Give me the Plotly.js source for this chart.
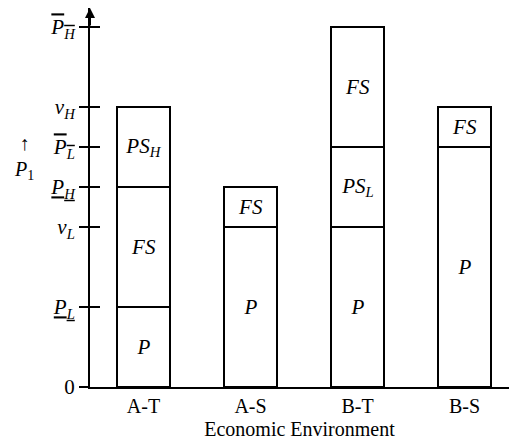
<!DOCTYPE html>
<html>
<head>
<meta charset="utf-8">
<script src="https://cdn.plot.ly/plotly-3.0.1.min.js"></script>
<style>
  html, body { margin: 0; padding: 0; background: #fff; }
  #chart { width: 509px; height: 444px; }
  #chart text, #chart tspan { font-family: 'Liberation Serif', serif !important; }
</style>
</head>
<body>
<div id="chart"></div>
<script>
// environments along the x axis
const environments = ['A-T', 'A-S', 'B-T', 'B-S'];

// stacked segment heights (bottom, middle, top)
const bottomSeg = [2, 4, 4, 6];
const middleSeg = [3, 1, 2, 1];
const topSeg = [2, 0, 3, 0];

// segment labels
const bottomText = ['P', 'P', 'P', 'P'];
const middleText = ['FS', 'FS', 'PS<sub>L</sub>', 'FS'];
const topText = ['PS<sub>H</sub>', '', 'FS', ''];

// y axis ticks
const yTickVals = [0, 2, 4, 5, 6, 7, 9];
const yTickText = ['0',
  '<span style="text-decoration:underline"><i>P<sub>L</sub></i></span>',
  '<i>v<sub>L</sub></i>',
  '<span style="text-decoration:underline"><i>P<sub>H</sub></i></span>',
  '<span style="text-decoration:overline"><i>P<sub>L</sub></i></span>',
  '<i>v<sub>H</sub></i>',
  '<span style="text-decoration:overline"><i>P<sub>H</sub></i></span>'];

const serif = 'Liberation Serif';

function segment(values, labels) {
  return {type: 'bar', x: environments, y: values, width: 0.5, text: labels, texttemplate: '%{text}',
    textposition: 'inside', insidetextanchor: 'middle', textangle: 0, constraintext: 'none',
    textfont: {family: serif, size: 21, style: 'italic', color: '#000'},
    marker: {color: '#fff', line: {color: '#000', width: 1.6}}, hoverinfo: 'skip', showlegend: false};
}

const data = [segment(bottomSeg, bottomText), segment(middleSeg, middleText), segment(topSeg, topText),
  // empty trace so the inner tick axis gets drawn
  {type: 'scatter', x: [], y: [], yaxis: 'y2', hoverinfo: 'skip', showlegend: false}];

const layout = {
  width: 509, height: 444, margin: {l: 90, r: 0, t: 8, b: 57}, barmode: 'stack',
  font: {family: serif, size: 20, color: '#000'},
  xaxis: {range: [-0.5, 3.416], showline: true, linewidth: 2, linecolor: '#000', showgrid: false, zeroline: false, ticks: '',
    tickfont: {family: serif, size: 20, color: '#000'},
    title: {text: 'Economic Environment', font: {family: serif, size: 20, color: '#000'}, standoff: 6}},
  yaxis: {range: [0, 9.475], showline: true, linewidth: 2, linecolor: '#000', showgrid: false, zeroline: false,
    ticks: 'outside', ticklen: 9, tickwidth: 2, tickcolor: '#000', tickvals: yTickVals, ticktext: yTickText,
    tickfont: {family: serif, size: 21, color: '#000'}},
  yaxis2: {overlaying: 'y', anchor: 'x', side: 'left', range: [0, 9.475], showline: false, showgrid: false, zeroline: false,
    ticks: 'inside', ticklen: 10, tickwidth: 2, tickcolor: '#000', tickvals: yTickVals, showticklabels: false},
  annotations: [
    // arrowhead on top of the y axis
    {x: -0.5, y: 9.475, xref: 'x', yref: 'y', ax: -0.5, ay: 9.0, axref: 'x', ayref: 'y', text: '', showarrow: true,
      arrowhead: 2, arrowsize: 1, arrowwidth: 2, arrowcolor: '#000'},
    // y axis label
    {x: -0.185, y: 5.75, xref: 'paper', yref: 'y', text: '↑<br><i>P</i><sub>1</sub>', showarrow: false,
      font: {family: serif, size: 20, color: '#000'}}
  ]
};

Plotly.newPlot('chart', data, layout, {staticPlot: true, displayModeBar: false});
</script>
</body>
</html>
